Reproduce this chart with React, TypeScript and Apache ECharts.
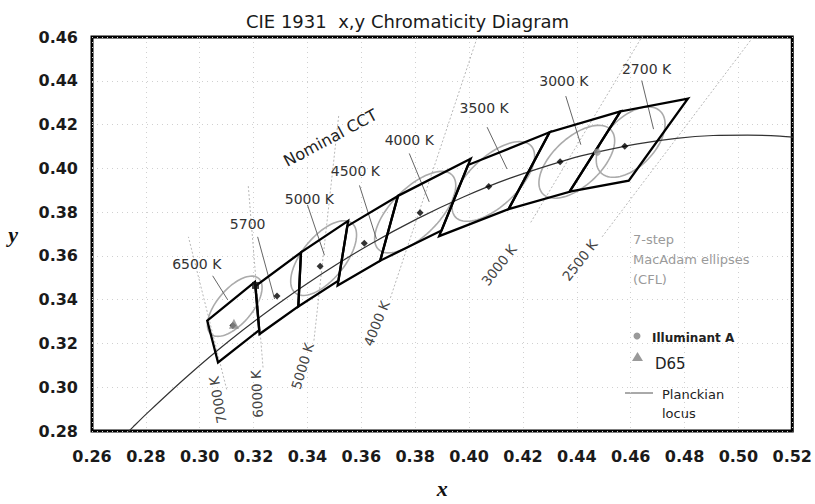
import React, { useEffect, useRef } from 'react';
import * as echarts from 'echarts';

// Axis ranges / ticks
const xMin = 0.26;
const xMax = 0.52;
const yMin = 0.28;
const yMax = 0.46;
const tickStep = 0.02;

// Planckian locus (CIE 1931 x, y)
const locusX = [0.2701, 0.2752, 0.2806, 0.2952, 0.3110, 0.3277, 0.3451, 0.3628, 0.3805, 0.3979, 0.4150, 0.4369, 0.4475, 0.4626, 0.4770, 0.4906, 0.5034, 0.5154, 0.5267];
const locusY = [0.2755, 0.2818, 0.2883, 0.3048, 0.3212, 0.3369, 0.3516, 0.3650, 0.3768, 0.3869, 0.3954, 0.4041, 0.4074, 0.4112, 0.4137, 0.4150, 0.4152, 0.4147, 0.4133];

// Nominal CCT quadrangles (corners: upper-right, upper-left, lower-left, lower-right)
const quadNames = ['2700 K', '3000 K', '3500 K', '4000 K', '4500 K', '5000 K', '5700 K', '6500 K'];
const quadX = [
  [0.4813, 0.4562, 0.4373, 0.4593],
  [0.4562, 0.4299, 0.4147, 0.4373],
  [0.4299, 0.3996, 0.3889, 0.4147],
  [0.4006, 0.3736, 0.3670, 0.3898],
  [0.3736, 0.3548, 0.3512, 0.3670],
  [0.3551, 0.3376, 0.3366, 0.3515],
  [0.3376, 0.3207, 0.3222, 0.3366],
  [0.3205, 0.3028, 0.3068, 0.3221],
];
const quadY = [
  [0.4319, 0.4260, 0.3893, 0.3944],
  [0.4260, 0.4165, 0.3814, 0.3893],
  [0.4165, 0.4015, 0.3690, 0.3814],
  [0.4044, 0.3874, 0.3578, 0.3716],
  [0.3874, 0.3736, 0.3465, 0.3578],
  [0.3760, 0.3616, 0.3369, 0.3487],
  [0.3616, 0.3462, 0.3243, 0.3369],
  [0.3481, 0.3304, 0.3113, 0.3261],
];
const quadCenterX = [0.4578, 0.4338, 0.4073, 0.3818, 0.3611, 0.3447, 0.3287, 0.3123];
const quadCenterY = [0.4101, 0.4030, 0.3917, 0.3797, 0.3658, 0.3553, 0.3417, 0.3282];

// Marked corner (black square near the 5700 K bin)
const cornerMarkX = [0.3207];
const cornerMarkY = [0.3465];

// 7-step MacAdam ellipses (CFL): centre, 1-step semi axes, angle (deg)
const ellipseX = [0.313, 0.346, 0.380, 0.409, 0.440, 0.460];
const ellipseY = [0.337, 0.359, 0.380, 0.394, 0.403, 0.412];
const ellipseA = [0.00223, 0.00274, 0.00313, 0.00309, 0.00278, 0.00258];
const ellipseB = [0.00100, 0.00122, 0.00138, 0.00142, 0.00140, 0.00140];
const ellipseTheta = [58.23, 59.37, 54.0, 52.58, 53.13, 57.28];
const ellipseSteps = 7;

// Isotherms (CCT lines)
const isoLabels = ['7000 K', '6000 K', '5000 K', '4000 K', '3000 K', '2500 K'];
const isoStartX = [0.3100, 0.3235, 0.3424, 0.3708, 0.4229, 0.4494];
const isoStartY = [0.2990, 0.3090, 0.3213, 0.3408, 0.3753, 0.3687];
const isoEndX = [0.2958, 0.3180, 0.3516, 0.4142, 0.4883, 0.5445];
const isoEndY = [0.3687, 0.3924, 0.4241, 0.5011, 0.5096, 0.5236];
const isoLabelX = [0.3067, 0.3212, 0.3381, 0.3656, 0.4111, 0.4411];
const isoLabelY = [0.2942, 0.2969, 0.3097, 0.3292, 0.3558, 0.3580];
const isoLabelRot = [100, 93, 73, 68, 52, 52];

// Nominal CCT labels with leader lines
const cctLabels = ['6500 K', '5700', '5000 K', '4500 K', '4000 K', '3500 K', '3000 K', '2700 K'];
const cctLabelX = [0.2989, 0.3178, 0.3407, 0.3578, 0.3778, 0.4056, 0.4352, 0.4659];
const cctLabelY = [0.3563, 0.3745, 0.3860, 0.3988, 0.4130, 0.4277, 0.4397, 0.4454];
const leaderX1 = [0.3048, 0.3215, 0.3400, 0.3593, 0.3778, 0.4067, 0.4359, 0.4641];
const leaderY1 = [0.3509, 0.3687, 0.3833, 0.3922, 0.4068, 0.4188, 0.4330, 0.4401];
const leaderX2 = [0.3104, 0.3278, 0.3463, 0.3656, 0.3852, 0.4141, 0.4415, 0.4685];
const leaderY2 = [0.3399, 0.3403, 0.3603, 0.3678, 0.3847, 0.3997, 0.4108, 0.4179];

// Reference illuminants
const illumAX = 0.4476;
const illumAY = 0.4074;
const d65X = 0.3127;
const d65Y = 0.3290;

const nominalLabel = 'Nominal CCT';
const nominalX = 0.3485;
const nominalY = 0.4139;
const nominalRot = 28;

const SANS = 'DejaVu Sans';

export default function App() {
  const ref = useRef<HTMLDivElement>(null);

  useEffect(() => {
    if (!ref.current) return;
    const chart = echarts.init(ref.current, null, { renderer: 'svg' });

    const isoSeries = isoLabels.map((name, i) => ({
      type: 'line',
      name: 'iso ' + name,
      data: [
        [isoStartX[i], isoStartY[i]],
        [isoEndX[i], isoEndY[i]],
      ],
      symbol: 'none',
      silent: true,
      clip: true,
      z: 1,
      lineStyle: { color: '#b8b8b8', width: 1, type: [2, 2] },
    }));

    const textItem = (x: number, y: number, text: string, size: number, fill: string, rot = 0, weight = 'normal') => ({
      type: 'text',
      x,
      y,
      rotation: (rot * Math.PI) / 180,
      style: {
        text,
        fill,
        fontFamily: SANS,
        fontSize: size,
        fontWeight: weight,
        align: 'center',
        verticalAlign: 'middle',
      },
    });

    const option: any = {
      animation: false,
      backgroundColor: '#fff',
      textStyle: { fontFamily: SANS },
      title: {
        text: 'CIE 1931  x,y Chromaticity Diagram',
        left: 'center',
        top: 7,
        textStyle: { fontFamily: SANS, fontSize: 18, fontWeight: 'normal', color: '#1a1a1a' },
      },
      grid: {
        left: 92,
        right: 21,
        top: 37,
        bottom: 61,
        show: true,
        borderColor: '#000',
        borderWidth: 3,
        backgroundColor: 'transparent',
      },
      xAxis: {
        type: 'value',
        min: xMin,
        max: xMax,
        interval: tickStep,
        name: 'x',
        nameLocation: 'middle',
        nameGap: 46,
        nameTextStyle: { fontFamily: 'Liberation Serif', fontStyle: 'italic', fontWeight: 'bold', fontSize: 22, color: '#111' },
        axisLine: { show: false },
        axisTick: { show: false },
        axisLabel: {
          margin: 17,
          fontSize: 16,
          fontWeight: 'bold',
          color: '#1a1a1a',
          fontFamily: SANS,
          showMinLabel: true,
          showMaxLabel: true,
          formatter: (v: number) => v.toFixed(2),
        },
        splitLine: { show: true, lineStyle: { color: '#d0d0d0', width: 1, type: [1, 4] } },
      },
      yAxis: {
        type: 'value',
        min: yMin,
        max: yMax,
        interval: tickStep,
        name: 'y',
        nameLocation: 'middle',
        nameRotate: 0,
        nameGap: 74,
        nameTextStyle: { fontFamily: 'Liberation Serif', fontStyle: 'italic', fontWeight: 'bold', fontSize: 22, color: '#111' },
        axisLine: { show: false },
        axisTick: { show: false },
        axisLabel: {
          margin: 14,
          fontSize: 16,
          fontWeight: 'bold',
          color: '#1a1a1a',
          fontFamily: SANS,
          showMinLabel: true,
          showMaxLabel: true,
          formatter: (v: number) => v.toFixed(2),
        },
        splitLine: { show: true, lineStyle: { color: '#d0d0d0', width: 1, type: [1, 4] } },
      },
      series: [
        ...isoSeries,
        {
          type: 'custom',
          name: 'MacAdam ellipses',
          coordinateSystem: 'cartesian2d',
          silent: true,
          z: 2,
          data: ellipseX.map((x, i) => [x, ellipseY[i]]),
          renderItem: (params: any, api: any) => {
            const i = params.dataIndex;
            const th = (ellipseTheta[i] * Math.PI) / 180;
            const a = ellipseA[i] * ellipseSteps;
            const b = ellipseB[i] * ellipseSteps;
            const pts: number[][] = [];
            const n = 90;
            for (let k = 0; k < n; k++) {
              const t = (k / n) * Math.PI * 2;
              const dx = a * Math.cos(t) * Math.cos(th) - b * Math.sin(t) * Math.sin(th);
              const dy = a * Math.cos(t) * Math.sin(th) + b * Math.sin(t) * Math.cos(th);
              pts.push(api.coord([ellipseX[i] + dx, ellipseY[i] + dy]));
            }
            return {
              type: 'polygon',
              shape: { points: pts },
              style: { fill: 'none', stroke: '#ababab', lineWidth: 1.6 },
            };
          },
        },
        {
          type: 'line',
          name: 'Planckian locus',
          data: locusX.map((x, i) => [x, locusY[i]]),
          symbol: 'none',
          smooth: 0.3,
          clip: true,
          silent: true,
          z: 3,
          lineStyle: { color: '#333', width: 1.2 },
        },
        {
          type: 'custom',
          name: 'Quadrangles',
          coordinateSystem: 'cartesian2d',
          silent: true,
          z: 5,
          data: quadCenterX.map((x, i) => [x, quadCenterY[i]]),
          renderItem: (params: any, api: any) => {
            const i = params.dataIndex;
            const pts = quadX[i].map((x, k) => api.coord([x, quadY[i][k]]));
            return {
              type: 'polygon',
              shape: { points: pts },
              style: { fill: 'none', stroke: '#000', lineWidth: 2.3, lineJoin: 'miter' },
            };
          },
        },
        {
          type: 'scatter',
          name: 'Centres',
          data: quadCenterX.map((x, i) => [x, quadCenterY[i]]),
          symbol: 'diamond',
          symbolSize: 7,
          itemStyle: { color: '#000' },
          silent: true,
          z: 6,
        },
        {
          type: 'scatter',
          name: 'Corner mark',
          data: cornerMarkX.map((x, i) => [x, cornerMarkY[i]]),
          symbol: 'rect',
          symbolSize: 7,
          itemStyle: { color: '#111' },
          silent: true,
          z: 6,
        },
        {
          type: 'scatter',
          name: 'Illuminant A',
          data: [[illumAX, illumAY]],
          symbol: 'circle',
          symbolSize: 7,
          itemStyle: { color: '#9a9a9a' },
          silent: true,
          z: 7,
        },
        {
          type: 'scatter',
          name: 'D65',
          data: [[d65X, d65Y]],
          symbol: 'triangle',
          symbolSize: 10,
          itemStyle: { color: '#8a8a8a' },
          silent: true,
          z: 7,
        },
        {
          type: 'custom',
          name: 'Leaders',
          coordinateSystem: 'cartesian2d',
          silent: true,
          z: 4,
          data: leaderX1.map((x, i) => [x, leaderY1[i]]),
          renderItem: (params: any, api: any) => {
            const i = params.dataIndex;
            const p1 = api.coord([leaderX1[i], leaderY1[i]]);
            const p2 = api.coord([leaderX2[i], leaderY2[i]]);
            return {
              type: 'line',
              shape: { x1: p1[0], y1: p1[1], x2: p2[0], y2: p2[1] },
              style: { stroke: '#666', lineWidth: 1 },
            };
          },
        },
        {
          type: 'custom',
          name: 'CCT labels',
          coordinateSystem: 'cartesian2d',
          silent: true,
          z: 8,
          data: cctLabelX.map((x, i) => [x, cctLabelY[i]]),
          renderItem: (params: any, api: any) => {
            const i = params.dataIndex;
            const p = api.coord([cctLabelX[i], cctLabelY[i]]);
            return textItem(p[0], p[1], cctLabels[i], 14, '#333');
          },
        },
        {
          type: 'custom',
          name: 'Isotherm labels',
          coordinateSystem: 'cartesian2d',
          silent: true,
          z: 8,
          data: isoLabelX.map((x, i) => [x, isoLabelY[i]]),
          renderItem: (params: any, api: any) => {
            const i = params.dataIndex;
            const p = api.coord([isoLabelX[i], isoLabelY[i]]);
            return textItem(p[0], p[1], isoLabels[i], 13.5, '#444', isoLabelRot[i]);
          },
        },
        {
          type: 'custom',
          name: 'Nominal',
          coordinateSystem: 'cartesian2d',
          silent: true,
          z: 8,
          data: [[nominalX, nominalY]],
          renderItem: (params: any, api: any) => {
            const p = api.coord([nominalX, nominalY]);
            return textItem(p[0], p[1], nominalLabel, 16, '#222', nominalRot);
          },
        },
      ],
      graphic: [
        { type: 'text', x: 633, y: 239, style: { text: '7-step', fill: '#9a9a9a', font: `13px "${SANS}"`, textAlign: 'left', textVerticalAlign: 'middle' } },
        { type: 'text', x: 633, y: 259, style: { text: 'MacAdam ellipses', fill: '#9a9a9a', font: `13px "${SANS}"`, textAlign: 'left', textVerticalAlign: 'middle' } },
        { type: 'text', x: 633, y: 279, style: { text: '(CFL)', fill: '#9a9a9a', font: `13px "${SANS}"`, textAlign: 'left', textVerticalAlign: 'middle' } },
        { type: 'circle', shape: { cx: 637, cy: 336, r: 3.5 }, style: { fill: '#9a9a9a' } },
        { type: 'text', x: 652, y: 338, style: { text: 'Illuminant A', fill: '#222', font: `bold 12px "${SANS}"`, textAlign: 'left', textVerticalAlign: 'middle' } },
        { type: 'polygon', shape: { points: [[632, 361], [643, 361], [637.5, 352]] }, style: { fill: '#9a9a9a' } },
        { type: 'text', x: 655, y: 364, style: { text: 'D65', fill: '#222', font: `15px "${SANS}"`, textAlign: 'left', textVerticalAlign: 'middle' } },
        { type: 'line', shape: { x1: 625, y1: 393, x2: 653, y2: 393 }, style: { stroke: '#555', lineWidth: 1 } },
        { type: 'text', x: 662, y: 394, style: { text: 'Planckian', fill: '#222', font: `13px "${SANS}"`, textAlign: 'left', textVerticalAlign: 'middle' } },
        { type: 'text', x: 662, y: 413, style: { text: 'locus', fill: '#222', font: `13px "${SANS}"`, textAlign: 'left', textVerticalAlign: 'middle' } },
      ],
    };

    chart.setOption(option);
    return () => chart.dispose();
  }, []);

  return (
    <div
      ref={ref}
      style={{ position: 'fixed', left: 0, top: 0, width: 815, height: 504, background: '#fff' }}
    />
  );
}
